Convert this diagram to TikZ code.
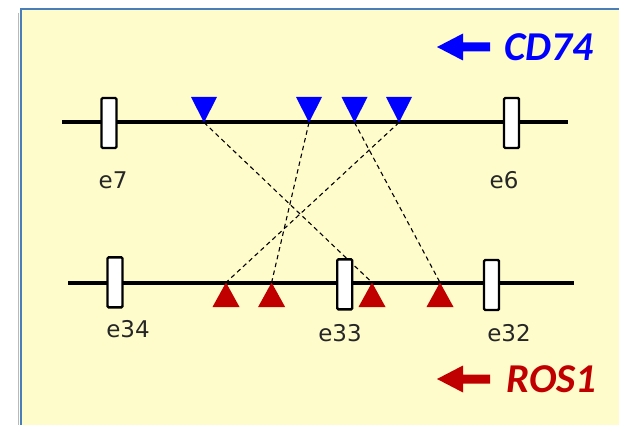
\documentclass[tikz,border=0pt]{standalone}
\usepackage{fontspec}
\setmainfont{DejaVu Sans}
\newfontfamily\genefont{Carlito}
\definecolor{panelfill}{HTML}{FFFCCC}
\definecolor{panelborder}{HTML}{4A7EBB}
\definecolor{cdblue}{HTML}{0000FF}
\definecolor{rosred}{HTML}{C00000}
\begin{document}
\begin{tikzpicture}[x=1pt,y=-1pt,
  exon/.style={draw=black, fill=white, line width=2.4pt, rounded corners=1.2pt,
    minimum width=15pt, minimum height=50pt, inner sep=0pt},
  chrom/.style={line width=4pt},
  link/.style={line width=1.1pt, dash pattern=on 4.5pt off 3.5pt},
  exonlabel/.style={font=\fontsize{23}{23}\selectfont, text=black!85, inner sep=0pt},
  genelabel/.style={font=\genefont\bfseries\itshape\fontsize{41}{41}\selectfont,
    inner sep=0pt, anchor=west}
]
\useasboundingbox (0,0) rectangle (619,425);
\clip (0,0) rectangle (619,425);
\fill[white] (0,0) rectangle (619,425);

% panel with a faint shadow on its left side
\draw[gray!55, line width=1.5pt] (18.3,13) -- (18.3,430);
\draw[panelborder, line width=2pt, fill=panelfill] (20.5,9.5) rectangle (700,500);

% chromosome lines
\coordinate (topL) at (62,122.5);
\coordinate (topR) at (568,122.5);
\coordinate (botL) at (68,282.5);
\coordinate (botR) at (574,282.5);

% breakpoints on CD74 (top) and ROS1 (bottom)
\coordinate (t1) at (204,122.5);
\coordinate (t2) at (309,122.5);
\coordinate (t3) at (354.5,122.5);
\coordinate (t4) at (399,122.5);
\coordinate (b1) at (226,282.5);
\coordinate (b2) at (271.6,282.5);
\coordinate (b3) at (372,282.5);
\coordinate (b4) at (440,282.5);

% fusion links
\draw[link] (t1) -- (b3);
\draw[link] (t2) -- (b2);
\draw[link] (t3) -- (b4);
\draw[link] (t4) -- (b1);

\draw[chrom] (topL) -- (topR);
\draw[chrom] (botL) -- (botR);

% exons
\node[exon] (e7) at (109,123) {};
\node[exon] (e6) at (511.5,123) {};
\node[exon] (e34) at (115,282.3) {};
\node[exon] (e33) at (344.7,284.3) {};
\node[exon] (e32) at (491.5,285) {};

\node[exonlabel] (le7) at (113,180) {e7};
\node[exonlabel] (le6) at (504,180) {e6};
\node[exonlabel] (le34) at (128,329.5) {e34};
\node[exonlabel] (le33) at (340,333) {e33};
\node[exonlabel] (le32) at (509,333) {e32};

% breakpoint markers
\foreach \p in {t1,t2,t3,t4}
  \fill[cdblue] (\p) -- ++(-13,-25.5) -- ++(26,0) -- cycle;
\foreach \p in {b1,b2,b3,b4}
  \fill[rosred] (\p) -- ++(-13.5,24.5) -- ++(27,0) -- cycle;

% gene direction arrows and names
\coordinate (cdtip) at (437,47);
\fill[cdblue] (cdtip) -- ++(26,-13.5) -- ++(0,9) -- ++(27,0) -- ++(0,9)
  -- ++(-27,0) -- ++(0,9) -- cycle;
\node[genelabel, text=cdblue] (cd74) at (504,47) {CD74};

\coordinate (rostip) at (437,379);
\fill[rosred] (rostip) -- ++(26,-13.5) -- ++(0,9) -- ++(27,0) -- ++(0,9)
  -- ++(-27,0) -- ++(0,9) -- cycle;
\node[genelabel, text=rosred] (ros1) at (506,379) {ROS1};
\end{tikzpicture}
\end{document}
